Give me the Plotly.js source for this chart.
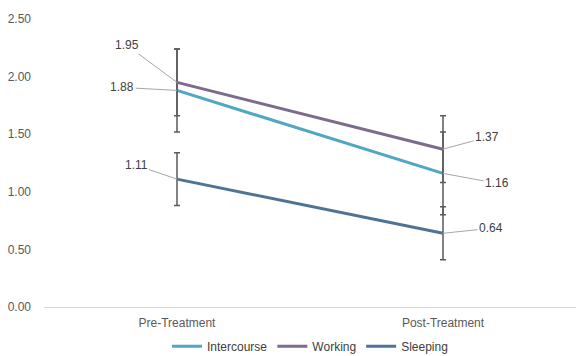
<!DOCTYPE html>
<html>
<head>
<meta charset="utf-8">
<script src="https://cdn.plot.ly/plotly-3.0.1.min.js"></script>
<style>html,body{margin:0;padding:0;background:#fff;}#chart{width:576px;height:356px;}</style>
</head>
<body>
<div id="chart"></div>
<script>
const categories = ["Pre-Treatment", "Post-Treatment"];
const seriesNames = ["Intercourse", "Working", "Sleeping"];
const intercourse = [1.88, 1.16];
const working = [1.95, 1.37];
const sleeping = [1.11, 0.64];
const intercourseErr = [0.36, 0.36];
const workingErr = [0.29, 0.29];
const sleepingErr = [0.23, 0.23];
const yTicks = [0, 0.5, 1.0, 1.5, 2.0, 2.5];
const yTickLabels = ["0.00", "0.50", "1.00", "1.50", "2.00", "2.50"];

const colors = ["#4fa7c2", "#7d6a8c", "#4f7394"];
const values = [intercourse, working, sleeping];
const errs = [intercourseErr, workingErr, sleepingErr];

const traces = values.map((v, i) => ({
  type: "scatter",
  mode: "lines",
  name: seriesNames[i],
  x: categories,
  y: v,
  line: {color: colors[i], width: 3},
  error_y: {type: "data", array: errs[i], visible: true, color: "#5a5a5a", thickness: 1.5, width: 3},
  hoverinfo: "skip"
}));

// label offsets (pixels) for annotations
const labelOffsets = [
  [[-55, -3], [54, 10]],
  [[-50, -37], [44, -12]],
  [[-41, -14], [48, -5]]
];
const annotations = [];
values.forEach((v, i) => {
  v.forEach((val, j) => {
    annotations.push({
      x: categories[j], y: val, xref: "x", yref: "y",
      text: val.toFixed(2),
      showarrow: true, arrowhead: 0, arrowwidth: 1, arrowcolor: "#a6a6a6",
      ax: labelOffsets[i][j][0], ay: labelOffsets[i][j][1],
      font: {family: "Liberation Sans, Arial, sans-serif", size: 12, color: "#404040"},
      borderpad: 1
    });
  });
});

const layout = {
  width: 576, height: 356,
  margin: {l: 44, r: 0, t: 19, b: 49},
  paper_bgcolor: "#fff", plot_bgcolor: "#fff",
  font: {family: "Liberation Sans, Arial, sans-serif", size: 12, color: "#595959"},
  showlegend: true,
  legend: {orientation: "h", x: 0.5, xanchor: "center", yref: "container", y: 0.068, yanchor: "top",
           font: {size: 12, color: "#404040"}, itemwidth: 30, tracegroupgap: 0},
  xaxis: {type: "category", range: [-0.5, 1.5], showgrid: false, zeroline: false, showline: true,
          linecolor: "#d9d9d9", linewidth: 1, ticks: "", ticklabelstandoff: 5,
          tickfont: {size: 12, color: "#595959"}},
  yaxis: {range: [0, 2.5], tickvals: yTicks, ticktext: yTickLabels, showgrid: false,
          zeroline: false, showline: false, ticks: "", ticklabelstandoff: 12,
          tickfont: {size: 12, color: "#595959"}},
  annotations: annotations
};

Plotly.newPlot("chart", traces, layout, {staticPlot: true, displayModeBar: false});
</script>
</body>
</html>
